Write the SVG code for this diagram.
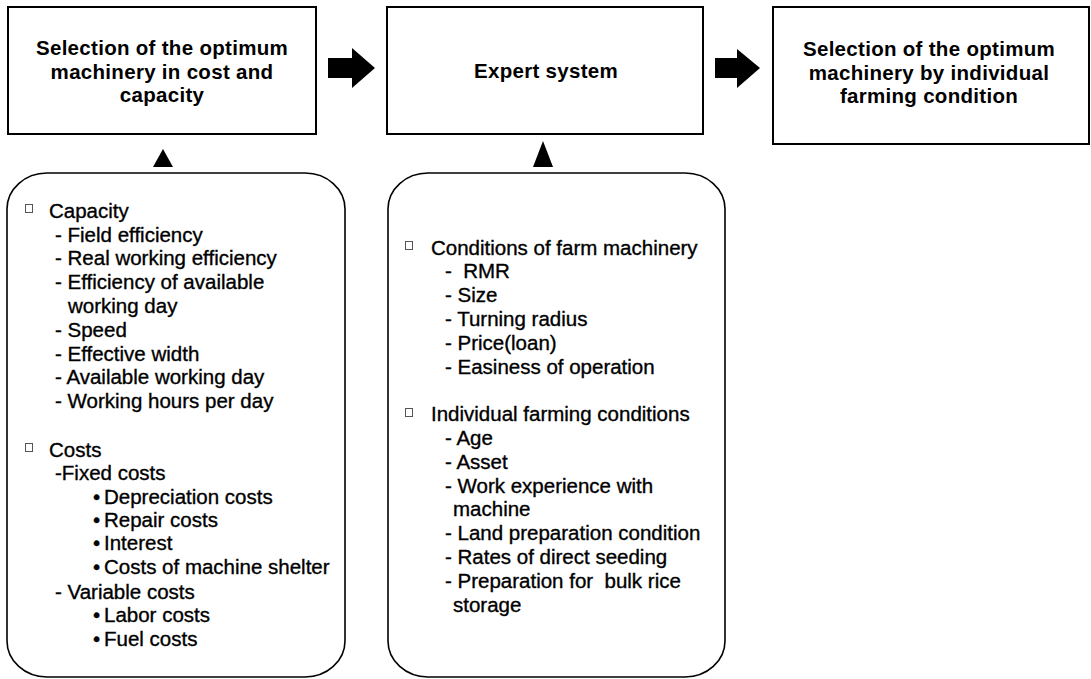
<svg xmlns="http://www.w3.org/2000/svg" width="1091" height="679" viewBox="0 0 1091 679">
<style>
.box{fill:#fff;stroke:#000;stroke-width:2}
.rbox{fill:#fff;stroke:#000;stroke-width:1.6}
.title{font-family:"Liberation Sans",Arial,sans-serif;font-weight:bold;font-size:20.5px;fill:#000;text-anchor:middle;letter-spacing:0.3px}
.item{font-family:"Liberation Sans",Arial,sans-serif;font-size:20.5px;fill:#000;stroke:#000;stroke-width:0.35;white-space:pre}
.chk{fill:none;stroke:#555;stroke-width:1}
.arr{fill:#000;stroke:none}
</style>
<rect width="1091" height="679" fill="#fff"/>
<g id="connectors">
<polygon class="arr" points="328,58 352,58 352,48 375,68 352,88 352,78 328,78"/>
<polygon class="arr" points="715,58 737,58 737,49 760,68 737,88 737,78 715,78"/>
<polygon class="arr" points="153,167 173,167 163,149"/>
<polygon class="arr" points="533,167 553,167 543,141"/>
</g>
<g id="node-cost-capacity">
<rect class="box" x="8" y="7" width="308" height="127"/>
<text class="title" x="162" y="55">Selection of the optimum</text>
<text class="title" x="162" y="78.5">machinery in cost and</text>
<text class="title" x="162" y="102">capacity</text>
</g>
<g id="node-expert">
<rect class="box" x="387" y="7" width="316" height="127"/>
<text class="title" x="546" y="77.5">Expert system</text>
</g>
<g id="node-individual">
<rect class="box" x="773" y="7" width="316" height="137"/>
<text class="title" x="929" y="56">Selection of the optimum</text>
<text class="title" x="929" y="79.5">machinery by individual</text>
<text class="title" x="929" y="103">farming condition</text>
</g>
<g id="node-capacity-costs">
<rect class="rbox" x="7" y="173" width="338" height="504" rx="40" ry="36"/>
<rect class="chk" x="25.5" y="204.5" width="7" height="8"/>
<text class="item" x="49" y="217.5">Capacity</text>
<text class="item" x="55" y="241.5">- Field efficiency</text>
<text class="item" x="55" y="265.3">- Real working efficiency</text>
<text class="item" x="55" y="289.1">- Efficiency of available</text>
<text class="item" x="68" y="312.9">working day</text>
<text class="item" x="55" y="336.7">- Speed</text>
<text class="item" x="55" y="360.5">- Effective width</text>
<text class="item" x="55" y="384.3">- Available working day</text>
<text class="item" x="55" y="408.1">- Working hours per day</text>
<rect class="chk" x="25.5" y="443.5" width="7" height="8"/>
<text class="item" x="49" y="456.5">Costs</text>
<text class="item" x="55" y="479.5">-Fixed costs</text>
<text class="item" x="93" y="503.5">•<tspan x="104">Depreciation costs</tspan></text>
<text class="item" x="93" y="526.8">•<tspan x="104">Repair costs</tspan></text>
<text class="item" x="93" y="550">•<tspan x="104">Interest</tspan></text>
<text class="item" x="93" y="573.8">•<tspan x="104">Costs of machine shelter</tspan></text>
<text class="item" x="55" y="598.5">- Variable costs</text>
<text class="item" x="93" y="622.4">•<tspan x="104">Labor costs</tspan></text>
<text class="item" x="93" y="646">•<tspan x="104">Fuel costs</tspan></text>
</g>
<g id="node-conditions">
<rect class="rbox" x="388" y="173" width="337" height="504" rx="40" ry="36"/>
<rect class="chk" x="405.5" y="241.5" width="7" height="8"/>
<text class="item" x="431" y="254.5">Conditions of farm machinery</text>
<text class="item" x="445" y="278.3">-  RMR</text>
<text class="item" x="445" y="302.1">- Size</text>
<text class="item" x="445" y="325.9">- Turning radius</text>
<text class="item" x="445" y="349.7">- Price(loan)</text>
<text class="item" x="445" y="373.5">- Easiness of operation</text>
<rect class="chk" x="405.5" y="408.5" width="7" height="8"/>
<text class="item" x="431" y="421.1">Individual farming conditions</text>
<text class="item" x="445" y="444.9">- Age</text>
<text class="item" x="445" y="468.7">- Asset</text>
<text class="item" x="445" y="492.5">- Work experience with</text>
<text class="item" x="453" y="516.3">machine</text>
<text class="item" x="445" y="540.1">- Land preparation condition</text>
<text class="item" x="445" y="563.9">- Rates of direct seeding</text>
<text class="item" x="445" y="587.7">- Preparation for  bulk rice</text>
<text class="item" x="453" y="611.5">storage</text>
</g>
</svg>
